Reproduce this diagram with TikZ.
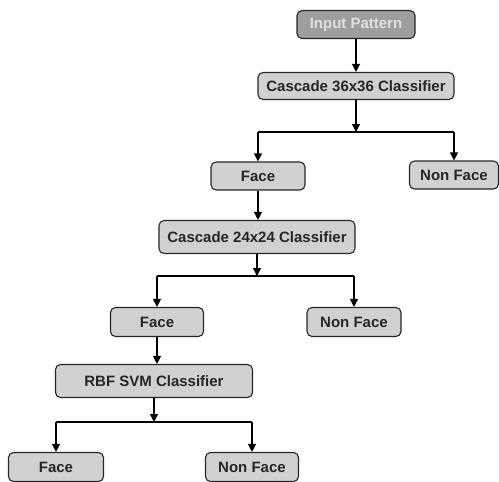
\documentclass[tikz,border=0pt]{standalone}
\usepackage{fontspec}
\setmainfont{Liberation Sans}
\usetikzlibrary{arrows.meta}
\begin{document}
\begin{tikzpicture}[x=1pt,y=-1pt,
  box/.style={draw=black!85, line width=1.1pt, rounded corners=5pt, fill=black!18,
    inner sep=0pt, font=\fontsize{15}{16}\selectfont\bfseries, text=black!85},
  darkbox/.style={box, fill=black!38, text=black!12},
  arr/.style={line width=1.2pt, -{Triangle[width=8pt,length=8pt]}},
  ln/.style={line width=1.2pt}]
\useasboundingbox (0,0) rectangle (499,482);
\node[darkbox, minimum width=118pt, minimum height=28pt] (inp) at (356,24.5) {Input Pattern};
\node[box, minimum width=196pt, minimum height=27pt] (c36) at (356,86) {Cascade 36x36 Classifier};
\node[box, minimum width=94pt, minimum height=28pt] (f1) at (258,176) {Face};
\node[box, minimum width=89pt, minimum height=28pt] (nf1) at (454,175) {Non Face};
\node[box, minimum width=196pt, minimum height=33pt] (c24) at (257,237) {Cascade 24x24 Classifier};
\node[box, minimum width=93pt, minimum height=29pt] (f2) at (157,322) {Face};
\node[box, minimum width=94pt, minimum height=29pt] (nf2) at (354,322) {Non Face};
\node[box, minimum width=197pt, minimum height=33pt] (rbf) at (154,381) {RBF SVM Classifier};
\node[box, minimum width=95pt, minimum height=29pt] (f3) at (56,467) {Face};
\node[box, minimum width=93pt, minimum height=29pt] (nf3) at (252,467) {Non Face};
\coordinate (j1) at (356,132);
\coordinate (j2) at (257,276);
\coordinate (j3) at (154,422);
\coordinate (j1l) at (f1.north |- j1);
\coordinate (j1r) at (nf1.north |- j1);
\coordinate (j2l) at (f2.north |- j2);
\coordinate (j2r) at (nf2.north |- j2);
\coordinate (j3l) at (f3.north |- j3);
\coordinate (j3r) at (nf3.north |- j3);
\draw[arr] (inp) -- (c36);
\draw[arr] (c36) -- (j1);
\draw[ln] (j1l) -- (j1r);
\draw[arr] (j1l) -- (f1);
\draw[arr] (j1r) -- (nf1);
\draw[arr] (f1) -- (c24.north -| f1);
\draw[arr] (c24) -- (j2);
\draw[ln] (j2l) -- (j2r);
\draw[arr] (j2l) -- (f2);
\draw[arr] (j2r) -- (nf2);
\draw[arr] (f2) -- (rbf.north -| f2);
\draw[arr] (rbf) -- (j3);
\draw[ln] (j3l) -- (j3r);
\draw[arr] (j3l) -- (f3);
\draw[arr] (j3r) -- (nf3);
\end{tikzpicture}
\end{document}
